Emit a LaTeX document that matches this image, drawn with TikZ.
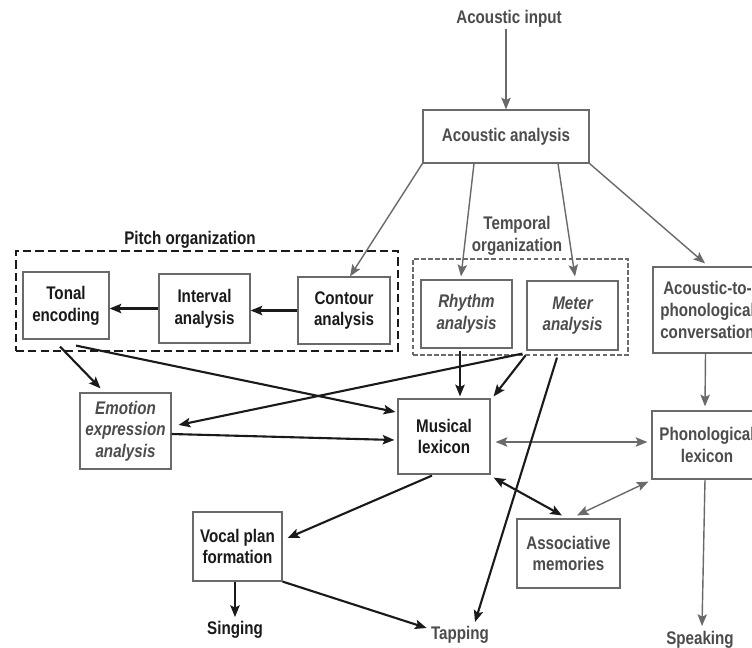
\documentclass[tikz,border=0pt]{standalone}
\usepackage{fontspec}
\setmainfont{Liberation Sans}[FakeStretch=0.83]
\usetikzlibrary{arrows.meta,calc}
\definecolor{ink}{HTML}{1A1A1A}
\definecolor{gtext}{HTML}{4C4C4C}
\definecolor{gline}{HTML}{6A6A6A}
\begin{document}
\begin{tikzpicture}[x=0.03cm,y=-0.03cm,
  every node/.style={font=\fontsize{15.6}{18.5}\selectfont\bfseries},
  box/.style={draw=gline, line width=1pt, align=center, inner sep=0pt},
  bk/.style={text=ink},
  gy/.style={text=gtext},
  it/.style={font=\fontsize{15.6}{18.5}\selectfont\bfseries\itshape},
  lbl/.style={inner sep=1pt, align=center},
  ar/.style={-{Stealth[length=10pt,width=8pt,inset=2pt]}, line width=1.8pt, draw=ink},
  gar/.style={-{Stealth[length=10pt,width=8pt,inset=2pt]}, line width=1.2pt, draw=gline},
  both/.style={{Stealth[length=10pt,width=8pt,inset=2pt]}-{Stealth[length=10pt,width=8pt,inset=2pt]}},
  pitchgrp/.style={draw=ink, line width=1.9pt, dash pattern=on 7pt off 3.5pt, inner sep=0pt},
  tempgrp/.style={draw=gline, line width=1.6pt, dash pattern=on 4pt off 2pt, inner sep=0pt}]
\useasboundingbox (0,0) rectangle (752,648);
\clip (0,0) rectangle (752,648);
\fill[white] (0,0) rectangle (752,648);

% group frames
\node[pitchgrp, minimum width=11.46cm, minimum height=3.0cm] (pitchg) at (207,301) {};
\node[tempgrp, minimum width=6.45cm, minimum height=2.88cm] (tempg) at (520.5,307) {};
\node[lbl,bk] (pitchl) at (190,240) {Pitch organization};
\node[lbl,gy] (templ) at (517,236) {Temporal\\organization};

% nodes
\node[lbl,gy] (input) at (509,19) {Acoustic input};
\node[box,gy, minimum width=4.98cm, minimum height=1.59cm] (acan) at (506,136.5) {Acoustic analysis};
\node[box,bk, minimum width=2.58cm, minimum height=2.01cm] (tonal) at (66,305.5) {Tonal\\encoding};
\node[box,bk, minimum width=2.73cm, minimum height=2.07cm] (interval) at (204.5,308.5) {Interval\\analysis};
\node[box,bk, minimum width=2.76cm, minimum height=2.01cm] (contour) at (344,310.5) {Contour\\analysis};
\node[box,gy,it, minimum width=2.73cm, minimum height=2.04cm] (rhythm) at (466.5,314) {Rhythm\\analysis};
\node[box,gy,it, minimum width=2.73cm, minimum height=2.07cm] (meter) at (572.5,315.5) {Meter\\analysis};
\node[box,gy, minimum width=3.27cm, minimum height=2.58cm] (a2p) at (707.5,310) {Acoustic-to-\\phonological\\conversation};
\node[box,gy, minimum width=3.30cm, minimum height=2.04cm] (phon) at (707,445) {Phonological\\lexicon};
\node[box,bk, minimum width=2.76cm, minimum height=2.25cm] (music) at (444,436.5) {Musical\\lexicon};
\node[box,gy,it, minimum width=2.73cm, minimum height=2.28cm] (emotion) at (125.5,431) {Emotion\\expression\\analysis};
\node[box,bk, minimum width=2.67cm, minimum height=2.07cm] (vocal) at (237.5,546.5) {Vocal plan\\formation};
\node[box,gy, minimum width=3.09cm, minimum height=2.07cm] (assoc) at (568.5,553.5) {Associative\\memories};
\node[lbl,bk] (singing) at (235,630) {Singing};
\node[lbl,gy] (tapping) at (460,635) {Tapping};
\node[lbl,gy] (speaking) at (700,640) {Speaking};

% grey connectors
\draw[gar] (input.south -| acan.north) -- (acan.north);
\draw[gar] (acan.south west) -- (contour.80);
\draw[gar] ($(acan.south)+(-32,0)$) -- ($(rhythm.north)+(-5.5,-3)$);
\draw[gar] ($(acan.south)+(52,0)$) -- ($(meter.north)+(2.5,-4)$);
\draw[gar] (acan.south east) -- ($(a2p.north)+(-2.5,-3)$);
\draw[gar] ($(a2p.south)+(-2,0)$) -- ($(phon.north)+(-2,-4)$);
\draw[gar] ($(phon.south)+(-2,0)$) -- ($(speaking.north)+(2,-4)$);
\draw[gar,both] ($(music.east)+(5,5.5)$) -- ($(phon.west)+(-4,-3)$);
\draw[gar,both] ($(assoc.north)+(8.5,-3)$) -- ($(phon.south west)+(-3,2)$);

% black connectors
\draw[ar] (contour.west) -- (contour.west -| interval.east);
\draw[ar] (interval.west) -- (interval.west -| tonal.east);
\draw[ar] ($(tonal.south)+(-6,7)$) -- ($(emotion.north)+(-25,-4)$);
\draw[ar] ($(tonal.south)+(10,6)$) -- ($(music.west)+(-2,-24.5)$);
\draw[ar] ($(meter.south west)+(-4,3)$) -- ($(emotion.east)+(7,-6)$);
\draw[ar] ($(emotion.east)+(0,3)$) -- ($(music.west)+(-3,3.5)$);
\draw[ar] ($(rhythm.south)+(-6.5,2)$) -- ($(music.north)+(16,-2)$);
\draw[ar] ($(meter.south west)+(-1,5)$) -- ($(music.north east)+(3,-2)$);
\draw[ar] ($(meter.south)+(-15.5,7)$) -- ($(tapping.north)+(15,-3)$);
\draw[ar,both] ($(music.south east)+(3,3)$) -- ($(assoc.north)+(-6.5,-3)$);
\draw[ar] ($(music.south)+(-12,1)$) -- ($(vocal.east)+(5,-8.5)$);
\draw[ar] ($(vocal.south)+(-2.5,0)$) -- ($(singing.north)+(0,-3)$);
\draw[ar] (vocal.south east) -- ($(tapping.west)+(-3,-7)$);
\end{tikzpicture}
\end{document}
